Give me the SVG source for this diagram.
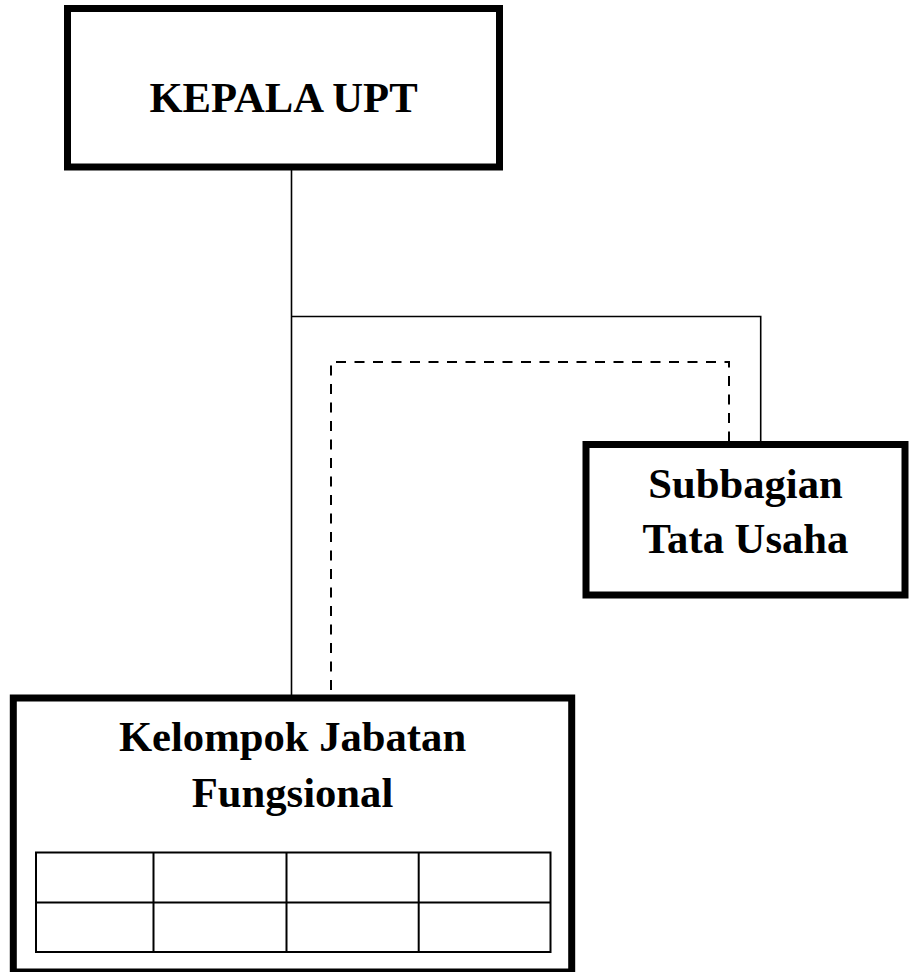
<svg xmlns="http://www.w3.org/2000/svg" width="909" height="972" viewBox="0 0 909 972">
<style>
.box{fill:#fff;stroke:#000;stroke-width:7}
.lbl{font-family:"Liberation Serif","Times New Roman",serif;font-weight:bold;font-size:42.67px;fill:#000;text-anchor:middle}
.ln{fill:none;stroke:#000;stroke-width:1.6}
.dash{fill:none;stroke:#000;stroke-width:2;stroke-dasharray:10 8.5}
.grid{fill:none;stroke:#000;stroke-width:2}
</style>
<rect width="909" height="972" fill="#fff"/>
<g id="connectors">
<path class="ln" d="M291.5,170 V695 M291.5,316.5 H760.7 V441"/>
<path class="dash" d="M331,690 V362 H729 V441"/>
</g>
<g id="kepala">
<rect class="box" x="67.5" y="8.5" width="432" height="158.5"/>
<text class="lbl" x="283.5" y="111.7">KEPALA UPT</text>
</g>
<g id="subbagian">
<rect class="box" x="586" y="444.5" width="319" height="150.5"/>
<text class="lbl" x="745.5" y="498.3">Subbagian</text>
<text class="lbl" x="745.5" y="553.3">Tata Usaha</text>
</g>
<g id="kelompok">
<rect class="box" x="13.3" y="698" width="558.4" height="274"/>
<text class="lbl" x="292.5" y="751">Kelompok Jabatan</text>
<text class="lbl" x="292.5" y="806.7">Fungsional</text>
<rect class="grid" x="36" y="852.5" width="514.5" height="99.5"/>
<path class="grid" d="M36,902.5 H550.5 M153.5,852.5 V952 M286.5,852.5 V952 M418.7,852.5 V952"/>
</g>
</svg>
